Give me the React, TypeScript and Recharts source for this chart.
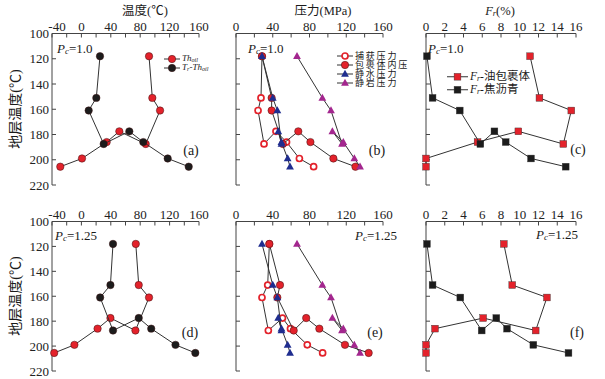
import { ScatterChart, Scatter, XAxis, YAxis } from 'recharts'

// formation temperature (地层温度, ℃) of the 8 samples, shared by all panels
const depth = [118, 151, 161, 187.5, 177.5, 186, 199, 205.5]

// (a) Pc = 1.0, temperature ℃
const thOilA = [92, 96.5, 107, 87.5, 51.6, 34.4, 0.8, -28.7]
const trThA = [25.3, 20.3, 9.9, 30.3, 65.2, 84.2, 117.4, 146]
// (d) Pc = 1.25
const thOilD = [74, 78, 92, 73.5, 39.5, 22, -9.5, -37]
const trThD = [43, 39.5, 25.5, 43, 78, 95, 128, 155]

// (b) Pc = 1.0, pressure MPa
const trapB = [28.3, 27.2, 24, 30.5, 43.5, 55, 69, 84.5]
const innerB = [28.3, 38.8, 38.8, 51, 67.8, 81, 106, 130]
// (e) Pc = 1.25
const trapE = [36.3, 34.5, 28.3, 35.2, 50.6, 59.3, 77.6, 94.3]
const innerE = [36.3, 47.9, 45, 62.8, 76.4, 90.7, 118.6, 144.4]
// hydrostatic / lithostatic, same in both rows
const hydro = [28.3, 40, 45, 49.5, 46, 49.5, 56.2, 58.8]
const litho = [66.4, 94, 103.4, 115.4, 104.9, 116.8, 128.8, 135]

// (c) Pc = 1.0, Fr %
const oilC = [11.1, 12.1, 15.5, 14.65, 9.85, 5.5, 0, 0]
const bitC = [0.1, 0.7, 3.6, 5.8, 7.3, 8.5, 11.2, 14.9]
// (f) Pc = 1.25
const oilF = [8.3, 9.2, 12.9, 11.7, 6.1, 0.96, 0, 0]
const bitF = [0.1, 0.7, 3.66, 5.94, 7.5, 8.64, 11.45, 15.2]

const tempTicks = [-40, -20, 0, 20, 40, 60, 80, 100, 120, 140, 160]
const pressTicks = [0, 20, 40, 60, 80, 100, 120, 140, 160]
const frTicks = [0, 2, 4, 6, 8, 10, 12, 14, 16]
const yTicks = [100, 120, 140, 160, 180, 200, 220]

const RED = '#e3222b'
const BLACK = '#1c1c1c'
const BLUE = '#1f2d8f'
const PURPLE = '#a3268e'
const LINE = '#333'
const AXIS = '#444'
const SERIF = '"Liberation Serif", "Noto Sans CJK SC", serif'

type Marker = 'dot' | 'ring' | 'tri' | 'square'

interface SeriesDef {
  name: string
  values: number[]
  kind: Marker
  color: string
}

const pts = (vals: number[]) => depth.map((d, i) => ({ x: vals[i], y: d }))

function Mark({ kind, color, cx, cy }: { kind: Marker; color: string; cx: number; cy: number }) {
  if (kind === 'ring') {
    return <circle cx={cx} cy={cy} r={3} fill="#fff" stroke={color} strokeWidth={1.7} />
  }
  if (kind === 'tri') {
    return <polygon points={`${cx},${cy - 4.2} ${cx + 3.9},${cy + 2.8} ${cx - 3.9},${cy + 2.8}`} fill={color} />
  }
  if (kind === 'square') {
    return <rect x={cx - 3.4} y={cy - 3.4} width={6.8} height={6.8} fill={color} stroke="#333" strokeWidth={0.4} />
  }
  return <circle cx={cx} cy={cy} r={3.7} fill={color} stroke="#3a1010" strokeWidth={0.5} />
}

interface PanelProps {
  left: number
  top: number
  width: number
  height: number
  yAxisWidth: number
  plotWidth: number
  plotHeight: number
  xDomain: [number, number]
  xTicks: number[]
  labelEvery: number
  yLabels: boolean
  series: SeriesDef[]
}

const X_AXIS_H = 33.5

// top-axis tick label; negative labels sit a little right of their tick, as in the source
const XTick = ({ x, y, payload, every }: any) => {
  const v = payload.value as number
  if (v % every !== 0) return null
  return (
    <text x={x + (v < 0 ? 5 : 0)} y={y} textAnchor="middle" fill="#222" fontSize={13} fontFamily={SERIF}>
      {String(v)}
    </text>
  )
}

function Panel(p: PanelProps) {
  const tickStyle = { fill: '#222', fontSize: 13, fontFamily: SERIF }
  return (
    <div style={{ position: 'absolute', left: p.left, top: p.top }}>
      <ScatterChart
        width={p.width}
        height={p.height}
        margin={{
          top: 0,
          left: 0,
          right: p.width - p.yAxisWidth - p.plotWidth,
          bottom: p.height - X_AXIS_H - p.plotHeight
        }}
      >
        <XAxis
          type="number"
          dataKey="x"
          orientation="top"
          domain={p.xDomain}
          ticks={p.xTicks}
          interval={0}
          height={X_AXIS_H}
          tickSize={-4}
          tickMargin={7}
          tick={(tp: any) => <XTick {...tp} every={p.labelEvery} />}
          axisLine={{ stroke: AXIS }}
          tickLine={{ stroke: AXIS }}
        />
        <YAxis
          type="number"
          dataKey="y"
          domain={[100, 220]}
          ticks={yTicks}
          interval={0}
          reversed
          width={p.yAxisWidth}
          tickSize={-4}
          tickMargin={7}
          tick={tickStyle}
          tickFormatter={(v: number) => (p.yLabels ? String(v) : '')}
          axisLine={{ stroke: AXIS }}
          tickLine={{ stroke: AXIS }}
        />
        {p.series.map((s) => (
          <Scatter
            key={s.name}
            name={s.name}
            data={pts(s.values)}
            line={{ stroke: LINE, strokeWidth: 1 }}
            lineType="joint"
            isAnimationActive={false}
            shape={(sp: any) => <Mark kind={s.kind} color={s.color} cx={sp.cx} cy={sp.cy} />}
          />
        ))}
      </ScatterChart>
    </div>
  )
}

function Note({
  x,
  y,
  anchor = 'middle',
  size = 13,
  children,
  style
}: {
  x: number
  y: number
  anchor?: 'start' | 'middle' | 'end'
  size?: number
  children: any
  style?: any
}) {
  const tx = anchor === 'start' ? '0' : anchor === 'end' ? '-100%' : '-50%'
  return (
    <div
      style={{
        position: 'absolute',
        left: x,
        top: y,
        transform: `translate(${tx},-50%)`,
        fontSize: size,
        fontFamily: SERIF,
        color: '#1a1a1a',
        whiteSpace: 'nowrap',
        lineHeight: 1,
        ...style
      }}
    >
      {children}
    </div>
  )
}

const Sub = ({ children, italic }: { children: any; italic?: boolean }) => (
  <span style={{ fontSize: '0.68em', verticalAlign: '-0.2em', lineHeight: 0, fontStyle: italic ? 'italic' : 'normal' }}>{children}</span>
)

function LegendRow({
  x,
  y,
  lineW,
  kind,
  color,
  size,
  children
}: {
  x: number
  y: number
  lineW: number
  kind: Marker
  color: string
  size: number
  children: any
}) {
  return (
    <div
      style={{
        position: 'absolute',
        left: x,
        top: y,
        height: size - 1,
        transform: 'translateY(-50%)',
        display: 'flex',
        alignItems: 'center',
        fontFamily: SERIF,
        fontSize: size,
        color: '#1a1a1a',
        whiteSpace: 'nowrap',
        lineHeight: 1
      }}
    >
      <svg width={lineW} height={10} style={{ display: 'block', overflow: 'visible' }}>
        <line x1={0} y1={5} x2={lineW} y2={5} stroke={LINE} strokeWidth={1} />
        <Mark kind={kind} color={color} cx={lineW / 2} cy={5} />
      </svg>
      <span style={{ marginLeft: 2 }}>{children}</span>
    </div>
  )
}

const Pc = ({ v }: { v: string }) => (
  <span>
    <i>P</i>
    <Sub italic>c</Sub>={v}
  </span>
)

export default function App() {
  const tempSeries = (th: number[], tr: number[]): SeriesDef[] => [
    { name: 'Th_oil', values: th, kind: 'dot', color: RED },
    { name: 'Tr-Th_oil', values: tr, kind: 'dot', color: BLACK }
  ]
  const pressSeries = (trap: number[], inner: number[]): SeriesDef[] => [
    { name: '捕获压力', values: trap, kind: 'ring', color: RED },
    { name: '包裹体内压', values: inner, kind: 'dot', color: RED },
    { name: '静水压力', values: hydro, kind: 'tri', color: BLUE },
    { name: '静岩压力', values: litho, kind: 'tri', color: PURPLE }
  ]
  const frSeries = (oil: number[], bit: number[]): SeriesDef[] => [
    { name: 'Fr-油包裹体', values: oil, kind: 'square', color: RED },
    { name: 'Fr-焦沥青', values: bit, kind: 'square', color: BLACK }
  ]

  const rows = [
    { top: 0, height: 196, plotHeight: 151.5, temp: tempSeries(thOilA, trThA), press: pressSeries(trapB, innerB), fr: frSeries(oilC, bitC) },
    { top: 188, height: 191, plotHeight: 149.5, temp: tempSeries(thOilD, trThD), press: pressSeries(trapE, innerE), fr: frSeries(oilF, bitF) }
  ]

  const cjk = { letterSpacing: 1.8 }

  return (
    <div style={{ position: 'absolute', left: 0, top: 0, width: 605, height: 379, background: '#fff', overflow: 'hidden' }}>
      {rows.map((r, i) => (
        <div key={i}>
          <Panel left={0} top={r.top} width={215} height={r.height} yAxisWidth={52} plotWidth={147} plotHeight={r.plotHeight}
            xDomain={[-40, 160]} xTicks={tempTicks} labelEvery={40} yLabels series={r.temp} />
          <Panel left={215} top={r.top} width={200} height={r.height} yAxisWidth={21} plotWidth={147} plotHeight={r.plotHeight}
            xDomain={[0, 160]} xTicks={pressTicks} labelEvery={40} yLabels={false} series={r.press} />
          <Panel left={415} top={r.top} width={190} height={r.height} yAxisWidth={11} plotWidth={150} plotHeight={r.plotHeight}
            xDomain={[0, 16]} xTicks={frTicks} labelEvery={2} yLabels={false} series={r.fr} />
        </div>
      ))}

      {/* axis titles */}
      <Note x={145} y={10.5} size={12.5}>温度(℃)</Note>
      <Note x={323} y={10.5} size={12.5}>压力(MPa)</Note>
      <Note x={500} y={10.5} size={12.5}><i>F</i><Sub italic>r</Sub>(%)</Note>
      <Note x={16} y={109} size={14} style={{ transform: 'translate(-50%,-50%) rotate(-90deg)' }}>地层温度(℃)</Note>
      <Note x={16} y={296} size={14} style={{ transform: 'translate(-50%,-50%) rotate(-90deg)' }}>地层温度(℃)</Note>

      {/* Pc labels */}
      <Note x={57} y={48} anchor="start"><Pc v="1.0" /></Note>
      <Note x={248} y={48} anchor="start"><Pc v="1.0" /></Note>
      <Note x={428} y={48} anchor="start"><Pc v="1.0" /></Note>
      <Note x={55} y={235} anchor="start"><Pc v="1.25" /></Note>
      <Note x={397} y={235} anchor="end"><Pc v="1.25" /></Note>
      <Note x={578} y={234} anchor="end"><Pc v="1.25" /></Note>

      {/* panel letters */}
      <Note x={191} y={151} size={14}>(a)</Note>
      <Note x={377} y={151} size={14}>(b)</Note>
      <Note x={578} y={150} size={14}>(c)</Note>
      <Note x={190} y={333} size={14}>(d)</Note>
      <Note x={375} y={333} size={14}>(e)</Note>
      <Note x={577} y={333} size={14}>(f)</Note>

      {/* legends */}
      <LegendRow x={164} y={58.5} lineW={16} kind="dot" color={RED} size={9}>
        <i>Th</i><Sub italic>oil</Sub>
      </LegendRow>
      <LegendRow x={164} y={67.5} lineW={16} kind="dot" color={BLACK} size={9}>
        <i>T</i><Sub italic>r</Sub><i>-Th</i><Sub italic>oil</Sub>
      </LegendRow>

      <LegendRow x={337} y={56} lineW={16} kind="ring" color={RED} size={9}>
        <span style={cjk}>捕获压力</span>
      </LegendRow>
      <LegendRow x={337} y={65} lineW={16} kind="dot" color={RED} size={9}>
        <span style={cjk}>包裹体内压</span>
      </LegendRow>
      <LegendRow x={337} y={74} lineW={16} kind="tri" color={BLUE} size={9}>
        <span style={cjk}>静水压力</span>
      </LegendRow>
      <LegendRow x={337} y={83} lineW={16} kind="tri" color={PURPLE} size={9}>
        <span style={cjk}>静岩压力</span>
      </LegendRow>

      <LegendRow x={447} y={76.5} lineW={21} kind="square" color={RED} size={11.5}>
        <i>F</i><Sub italic>r</Sub>-油包裹体
      </LegendRow>
      <LegendRow x={447} y={89.5} lineW={21} kind="square" color={BLACK} size={11.5}>
        <i>F</i><Sub italic>r</Sub>-焦沥青
      </LegendRow>
    </div>
  )
}
